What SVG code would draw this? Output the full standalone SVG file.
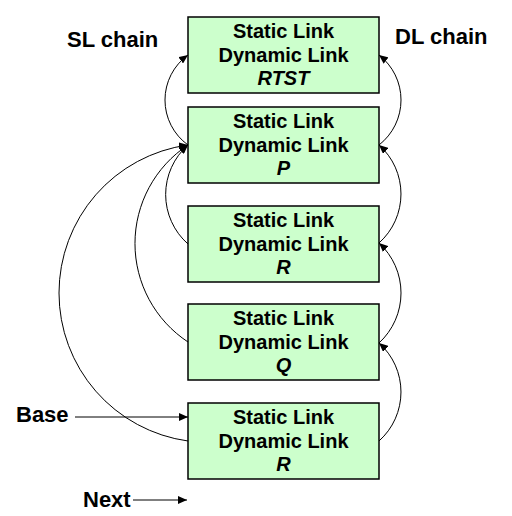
<svg xmlns="http://www.w3.org/2000/svg" width="512" height="516" viewBox="0 0 512 516">
<style>
.box{fill:#CCFFCC;stroke:#000;stroke-width:1.5}
.t{font-family:"Liberation Sans",Arial,sans-serif;font-weight:bold;font-size:20px;text-anchor:middle;fill:#000}
.i{font-style:italic}
.lbl{font-family:"Liberation Sans",Arial,sans-serif;font-weight:bold;font-size:22px;fill:#000}
.c{fill:none;stroke:#000;stroke-width:1;marker-end:url(#ah)}
</style>
<defs>
<marker id="ah" markerUnits="userSpaceOnUse" markerWidth="10" markerHeight="8" refX="9" refY="4" orient="auto">
<path d="M0,0 L9,4 L0,8 z" fill="#000"/>
</marker>
</defs>
<rect width="512" height="516" fill="#fff"/>
<g id="n1"><rect class="box" x="188" y="17" width="191" height="76"/>
<text class="t" x="283.5" y="37.5">Static Link</text><text class="t" x="283.5" y="61.5">Dynamic Link</text><text class="t i" x="283.5" y="85">RTST</text></g>
<g id="n2"><rect class="box" x="188" y="107" width="191" height="76"/>
<text class="t" x="283.5" y="127.5">Static Link</text><text class="t" x="283.5" y="151.5">Dynamic Link</text><text class="t i" x="283.5" y="175">P</text></g>
<g id="n3"><rect class="box" x="188" y="206" width="191" height="76"/>
<text class="t" x="283.5" y="226.5">Static Link</text><text class="t" x="283.5" y="250.5">Dynamic Link</text><text class="t i" x="283.5" y="274">R</text></g>
<g id="n4"><rect class="box" x="188" y="304" width="191" height="76"/>
<text class="t" x="283.5" y="324.5">Static Link</text><text class="t" x="283.5" y="348.5">Dynamic Link</text><text class="t i" x="283.5" y="372">Q</text></g>
<g id="n5"><rect class="box" x="188" y="403" width="191" height="76"/>
<text class="t" x="283.5" y="423.5">Static Link</text><text class="t" x="283.5" y="447.5">Dynamic Link</text><text class="t i" x="283.5" y="471">R</text></g>
<g id="labels">
<text class="lbl" x="67" y="46.5">SL chain</text>
<text class="lbl" x="395" y="43.5">DL chain</text>
<text class="lbl" x="16" y="422">Base</text>
<text class="lbl" x="83" y="507">Next</text>
</g>
<g id="connectors">
<path class="c" d="M188,145 A55.5,55.5 0 0 1 188,55"/>
<path class="c" d="M188,244 A66,66 0 0 1 188,145"/>
<path class="c" d="M188,342 A118,118 0 0 1 188,145"/>
<path class="c" d="M188,441 A149.4,149.4 0 0 1 188,145"/>
<path class="c" d="M379,145 A57,57 0 0 0 379,55"/>
<path class="c" d="M379,243 A65.6,65.6 0 0 0 379,145"/>
<path class="c" d="M379,343 A67.8,67.8 0 0 0 379,243"/>
<path class="c" d="M379,441 A65.6,65.6 0 0 0 379,343"/>
<path class="c" d="M75,417 L188,417"/>
<path class="c" d="M133,500 L187,500"/>
</g>
</svg>
